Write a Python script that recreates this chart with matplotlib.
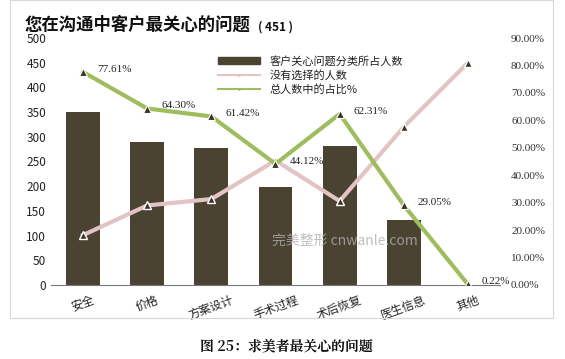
import matplotlib.pyplot as plt
from matplotlib.patches import Rectangle
from matplotlib.lines import Line2D

plt.rcParams['font.family'] = ['Noto Sans CJK SC', 'DejaVu Sans']

# 数据
categories = ['安全', '价格', '方案设计', '手术过程', '术后恢复', '医生信息', '其他']
counts = [350, 290, 277, 199, 281, 131, 1]
not_selected = [101, 161, 174, 252, 170, 320, 450]
pct = [77.61, 64.30, 61.42, 44.12, 62.31, 29.05, 0.22]
pct_labels = ['77.61%', '64.30%', '61.42%', '44.12%', '62.31%', '29.05%', '0.22%']

bar_color = '#4b4331'
pink = '#e3c3c3'
green = '#9fbd5e'

fig = plt.figure(figsize=(5.65, 3.59), dpi=100)

# 外框
fig.patches.append(Rectangle((10 / 565, 1 - 318 / 359), 543 / 565, 318 / 359,
                             transform=fig.transFigure, fill=False,
                             edgecolor='#d8d8d8', lw=0.8))

ax = fig.add_axes([51 / 565, 1 - 285 / 359, 449 / 565, 247 / 359])
x = list(range(len(categories)))
ax.bar(x, counts, width=0.53, color=bar_color, zorder=1)
ax.plot(x, not_selected, color=pink, lw=3, marker='^', markersize=6,
        markerfacecolor='#3a3528', markeredgecolor='white', markeredgewidth=1, zorder=3)
ax.set_ylim(0, 500)
ax.set_xlim(-0.5, 6.5)
ax.set_yticks(range(0, 501, 50))
ax.set_xticks(x)
ax.set_xticklabels(categories, rotation=20, fontsize=8.5, color='#222222')
ax.tick_params(axis='both', length=0, labelsize=8.5, colors='#222222')
ax.tick_params(axis='x', pad=6)
for s in ['top', 'right', 'left']:
    ax.spines[s].set_visible(False)
ax.spines['bottom'].set_color('#777777')
ax.spines['bottom'].set_linewidth(0.8)

ax2 = ax.twinx()
ax2.plot(x, pct, color=green, lw=3, marker='^', markersize=6,
         markerfacecolor='#3a3528', markeredgecolor='white', markeredgewidth=0.8, zorder=4)
ax2.set_ylim(0, 90)
ax2.set_yticks(range(0, 91, 10))
ax2.set_yticklabels(['%.2f%%' % v for v in range(0, 91, 10)],
                    family=['Liberation Serif'], fontsize=8, color='#333333')
ax2.tick_params(axis='y', length=0, pad=8)
for s in ax2.spines.values():
    s.set_visible(False)
for i, (v, lab) in enumerate(zip(pct, pct_labels)):
    ax2.annotate(lab, (i, v), xytext=(10, 2), textcoords='offset points',
                 fontsize=8, family=['Liberation Serif'], color='#222222', va='center')

# 图例
handles = [Rectangle((0, 0), 1, 1, color=bar_color),
           Line2D([], [], color=pink, lw=1.5, marker='.', markersize=2, markerfacecolor='#333333'),
           Line2D([], [], color=green, lw=1.5, marker='.', markersize=2, markerfacecolor='#333333')]
ax.legend(handles, ['客户关心问题分类所占人数', '没有选择的人数', '总人数中的占比%'],
          loc='upper left', bbox_to_anchor=(0.35, 0.97), frameon=False,
          fontsize=8, handlelength=3.8, handleheight=0.5, labelspacing=0.3,
          labelcolor='#222222')

# 标题
fig.text(25 / 565, 1 - 25 / 359, '您在沟通中客户最关心的问题', fontsize=12.5,
         fontweight='bold', va='center', ha='left', color='#111111')
fig.text(258 / 565, 1 - 27 / 359, '( 451 )', fontsize=8.5, fontweight='bold',
         va='center', ha='left', color='#111111')

# 水印
fig.text(272 / 565, 1 - 241 / 359, '完美整形 cnwanle.com', fontsize=10,
         color='#b0b0b0', alpha=0.8, va='center', ha='left')

# 图注
fig.text(200 / 565, 1 - 346 / 359, '图 25：求美者最关心的问题', fontsize=10,
         family=['Noto Serif CJK SC', 'Noto Sans CJK SC', 'DejaVu Sans'],
         fontweight='bold', va='center', ha='left', color='#111111')

fig.savefig('out.png', dpi=100, facecolor='white')
